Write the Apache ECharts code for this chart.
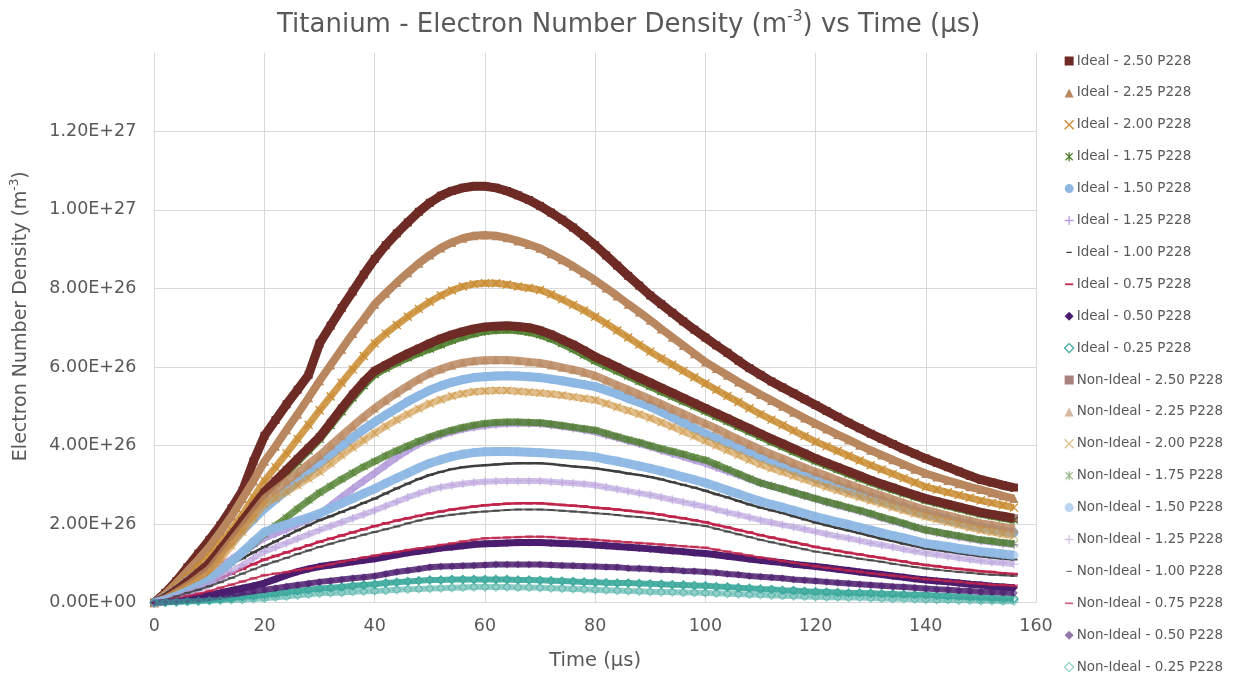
<!DOCTYPE html>
<html>
<head>
<meta charset="utf-8">
<script src="https://cdn.jsdelivr.net/npm/echarts@6/dist/echarts.min.js"></script>
<style>
  html, body { margin: 0; padding: 0; background: #ffffff; }
  #chart { width: 1236px; height: 677px; }
</style>
</head>
<body>
<div id="chart"></div>
<script>
// Sample times (µs)
const timeUs = [
  0, 2, 4, 6, 8, 10, 12, 14, 16, 18,
  20, 22, 24, 26, 28, 30, 32, 34, 36, 38,
  40, 42, 44, 46, 48, 50, 52, 54, 56, 58,
  60, 62, 64, 66, 68, 70, 72, 74, 76, 78,
  80, 82, 84, 86, 88, 90, 92, 94, 96, 98,
  100, 102, 104, 106, 108, 110, 112, 114, 116, 118,
  120, 122, 124, 126, 128, 130, 132, 134, 136, 138,
  140, 142, 144, 146, 148, 150, 152, 154, 156
];

// Electron number density, in units of 1E+26 m^-3
const ideal250 = [
  0, 0.25, 0.55, 0.9, 1.25, 1.6, 1.97, 2.4, 2.85, 3.6,
  4.25, 4.65, 5.05, 5.42, 5.8, 6.6, 7.05, 7.5, 7.92, 8.35,
  8.75, 9.1, 9.4, 9.68, 9.95, 10.18, 10.36, 10.48, 10.56, 10.6,
  10.6, 10.56, 10.48, 10.37, 10.25, 10.1, 9.93, 9.75, 9.55, 9.33,
  9.1, 8.84, 8.58, 8.32, 8.07, 7.82, 7.6, 7.38, 7.16, 6.95,
  6.75, 6.55, 6.36, 6.16, 5.97, 5.8, 5.63, 5.48, 5.33, 5.18,
  5.03, 4.88, 4.73, 4.58, 4.44, 4.3, 4.17, 4.04, 3.91, 3.79,
  3.67, 3.56, 3.45, 3.34, 3.23, 3.13, 3.06, 2.99, 2.93
];
const ideal225 = [
  0, 0.22, 0.5, 0.8, 1.1, 1.42, 1.8, 2.2, 2.65, 3.1,
  3.6, 3.98, 4.4, 4.8, 5.22, 5.65, 6.05, 6.45, 6.85, 7.22,
  7.6, 7.88, 8.15, 8.4, 8.64, 8.85, 9.03, 9.17, 9.28, 9.34,
  9.36, 9.34, 9.29, 9.21, 9.12, 9.02, 8.88, 8.73, 8.57, 8.39,
  8.21, 8.01, 7.81, 7.6, 7.4, 7.19, 6.97, 6.76, 6.55, 6.34,
  6.13, 5.96, 5.79, 5.62, 5.46, 5.3, 5.15, 5.0, 4.85, 4.7,
  4.56, 4.42, 4.28, 4.15, 4.01, 3.88, 3.76, 3.64, 3.52, 3.4,
  3.29, 3.2, 3.11, 3.03, 2.95, 2.88, 2.8, 2.72, 2.65
];
const ideal200 = [
  0, 0.18, 0.4, 0.64, 0.9, 1.17, 1.5, 1.85, 2.25, 2.68,
  3.1, 3.45, 3.8, 4.17, 4.53, 4.9, 5.25, 5.6, 5.94, 6.28,
  6.6, 6.85, 7.07, 7.28, 7.48, 7.66, 7.82, 7.95, 8.05, 8.11,
  8.13, 8.13, 8.1, 8.05, 8.01, 7.96, 7.85, 7.72, 7.58, 7.44,
  7.28, 7.11, 6.93, 6.75, 6.57, 6.39, 6.22, 6.06, 5.9, 5.74,
  5.58, 5.42, 5.26, 5.11, 4.95, 4.8, 4.66, 4.52, 4.38, 4.24,
  4.1, 3.98, 3.86, 3.74, 3.62, 3.5, 3.39, 3.28, 3.17, 3.06,
  2.95, 2.88, 2.81, 2.74, 2.67, 2.6, 2.54, 2.48, 2.42
];
const ideal175 = [
  0, 0.12, 0.3, 0.5, 0.72, 0.95, 1.3, 1.65, 2.0, 2.38,
  2.75, 3.03, 3.3, 3.58, 3.86, 4.15, 4.5, 4.85, 5.2, 5.52,
  5.8, 5.96, 6.1, 6.23, 6.35, 6.45, 6.56, 6.67, 6.76, 6.84,
  6.9, 6.93, 6.94, 6.92, 6.88, 6.81, 6.71, 6.59, 6.45, 6.3,
  6.15, 6.02, 5.89, 5.76, 5.63, 5.5, 5.37, 5.25, 5.12, 5.0,
  4.87, 4.74, 4.61, 4.48, 4.35, 4.22, 4.09, 3.97, 3.84, 3.72,
  3.6, 3.49, 3.38, 3.27, 3.16, 3.06, 2.96, 2.87, 2.78, 2.69,
  2.6, 2.53, 2.46, 2.39, 2.32, 2.25, 2.2, 2.15, 2.1
];
const ideal150 = [
  0, 0.15, 0.33, 0.55, 0.77, 1.0, 1.28, 1.56, 1.84, 2.12,
  2.4, 2.63, 2.86, 3.09, 3.32, 3.54, 3.76, 3.98, 4.2, 4.41,
  4.6, 4.78, 4.95, 5.12, 5.27, 5.41, 5.52, 5.61, 5.68, 5.73,
  5.75, 5.77, 5.78, 5.77, 5.75, 5.73, 5.69, 5.65, 5.6, 5.55,
  5.5, 5.41, 5.31, 5.2, 5.1, 4.99, 4.86, 4.72, 4.58, 4.44,
  4.3, 4.18, 4.06, 3.94, 3.82, 3.7, 3.59, 3.48, 3.37, 3.26,
  3.16, 3.06, 2.96, 2.87, 2.77, 2.68, 2.6, 2.51, 2.43, 2.34,
  2.26, 2.19, 2.12, 2.05, 1.98, 1.92, 1.87, 1.82, 1.78
];
const ideal125 = [
  0, 0.12, 0.27, 0.42, 0.58, 0.75, 0.93, 1.11, 1.29, 1.47,
  1.65, 1.76, 1.87, 2.0, 2.12, 2.25, 2.47, 2.69, 2.9, 3.1,
  3.3, 3.5, 3.7, 3.88, 4.04, 4.17, 4.27, 4.35, 4.42, 4.47,
  4.51, 4.54, 4.56, 4.57, 4.57, 4.56, 4.53, 4.49, 4.45, 4.4,
  4.35, 4.27, 4.2, 4.12, 4.05, 3.97, 3.88, 3.8, 3.72, 3.63,
  3.55, 3.45, 3.35, 3.25, 3.15, 3.05, 2.97, 2.89, 2.81, 2.72,
  2.64, 2.56, 2.48, 2.41, 2.33, 2.25, 2.16, 2.08, 2.0, 1.92,
  1.85, 1.79, 1.73, 1.68, 1.63, 1.58, 1.55, 1.51, 1.48
];
const ideal100 = [
  0, 0.12, 0.26, 0.4, 0.55, 0.7, 0.85, 0.99, 1.13, 1.28,
  1.42, 1.56, 1.7, 1.84, 1.97, 2.1, 2.2, 2.31, 2.42, 2.54,
  2.65, 2.78, 2.91, 3.03, 3.15, 3.25, 3.33, 3.4, 3.45, 3.48,
  3.5, 3.52, 3.54, 3.55, 3.55, 3.55, 3.53, 3.5, 3.47, 3.45,
  3.42, 3.38, 3.34, 3.29, 3.25, 3.2, 3.14, 3.07, 3.0, 2.93,
  2.85, 2.76, 2.68, 2.59, 2.5, 2.42, 2.35, 2.28, 2.2, 2.12,
  2.04, 1.97, 1.9, 1.84, 1.77, 1.7, 1.63, 1.57, 1.5, 1.44,
  1.38, 1.34, 1.3, 1.26, 1.22, 1.18, 1.15, 1.12, 1.1
];
const ideal075 = [
  0, 0.08, 0.18, 0.28, 0.39, 0.5, 0.62, 0.74, 0.86, 0.98,
  1.1, 1.19, 1.28, 1.37, 1.46, 1.55, 1.63, 1.71, 1.79, 1.87,
  1.95, 2.02, 2.09, 2.15, 2.21, 2.27, 2.32, 2.37, 2.41, 2.45,
  2.48, 2.5, 2.52, 2.53, 2.53, 2.53, 2.51, 2.49, 2.47, 2.45,
  2.42, 2.4, 2.37, 2.34, 2.31, 2.28, 2.24, 2.19, 2.15, 2.1,
  2.05, 1.98, 1.92, 1.85, 1.79, 1.72, 1.66, 1.6, 1.54, 1.48,
  1.42, 1.37, 1.32, 1.27, 1.23, 1.18, 1.14, 1.09, 1.05, 1.0,
  0.96, 0.93, 0.89, 0.86, 0.83, 0.8, 0.78, 0.75, 0.73
];
const ideal050 = [
  0, 0.03, 0.07, 0.11, 0.15, 0.2, 0.25, 0.31, 0.37, 0.43,
  0.5, 0.6, 0.7, 0.79, 0.86, 0.92, 0.96, 1.0, 1.04, 1.08,
  1.12, 1.17, 1.22, 1.27, 1.31, 1.35, 1.39, 1.42, 1.45, 1.48,
  1.5, 1.51, 1.52, 1.53, 1.53, 1.53, 1.52, 1.51, 1.5, 1.49,
  1.47, 1.45, 1.43, 1.41, 1.39, 1.37, 1.35, 1.32, 1.3, 1.27,
  1.25, 1.22, 1.18, 1.15, 1.11, 1.08, 1.05, 1.02, 0.98, 0.95,
  0.92, 0.89, 0.85, 0.82, 0.78, 0.75, 0.72, 0.68, 0.65, 0.61,
  0.58, 0.55, 0.53, 0.5, 0.47, 0.45, 0.42, 0.4, 0.38
];
const ideal025 = [
  0, 0.01, 0.02, 0.04, 0.05, 0.07, 0.09, 0.12, 0.15, 0.17,
  0.2, 0.23, 0.27, 0.3, 0.33, 0.36, 0.38, 0.4, 0.43, 0.45,
  0.47, 0.5, 0.52, 0.54, 0.56, 0.58, 0.58, 0.59, 0.59, 0.59,
  0.59, 0.59, 0.59, 0.58, 0.58, 0.57, 0.56, 0.55, 0.54, 0.53,
  0.52, 0.51, 0.5, 0.5, 0.49, 0.48, 0.47, 0.46, 0.45, 0.44,
  0.43, 0.41, 0.4, 0.38, 0.37, 0.35, 0.34, 0.32, 0.31, 0.29,
  0.28, 0.27, 0.26, 0.25, 0.25, 0.24, 0.23, 0.22, 0.21, 0.2,
  0.2, 0.18, 0.17, 0.16, 0.14, 0.13, 0.12, 0.11, 0.1
];
const nonIdeal250 = [
  0, 0.13, 0.32, 0.53, 0.76, 1.0, 1.35, 1.71, 2.08, 2.45,
  2.82, 3.1, 3.38, 3.66, 3.94, 4.22, 4.58, 4.95, 5.3, 5.62,
  5.9, 6.05, 6.2, 6.34, 6.47, 6.6, 6.72, 6.82, 6.9, 6.97,
  7.02, 7.04, 7.05, 7.03, 7.0, 6.93, 6.83, 6.7, 6.57, 6.42,
  6.26, 6.13, 6.0, 5.86, 5.73, 5.6, 5.47, 5.34, 5.21, 5.08,
  4.95, 4.82, 4.69, 4.56, 4.43, 4.3, 4.17, 4.05, 3.92, 3.8,
  3.67, 3.56, 3.45, 3.34, 3.23, 3.12, 3.02, 2.93, 2.83, 2.74,
  2.65, 2.58, 2.51, 2.44, 2.37, 2.3, 2.25, 2.2, 2.15
];
const nonIdeal225 = [
  0, 0.1, 0.26, 0.44, 0.64, 0.85, 1.21, 1.57, 1.93, 2.29,
  2.65, 2.87, 3.09, 3.31, 3.53, 3.75, 4.0, 4.25, 4.49, 4.73,
  4.95, 5.15, 5.34, 5.52, 5.69, 5.84, 5.95, 6.04, 6.11, 6.15,
  6.17, 6.18, 6.18, 6.16, 6.13, 6.1, 6.05, 5.99, 5.93, 5.86,
  5.78, 5.66, 5.54, 5.42, 5.3, 5.18, 5.06, 4.93, 4.81, 4.68,
  4.56, 4.43, 4.29, 4.16, 4.03, 3.9, 3.78, 3.67, 3.55, 3.44,
  3.33, 3.23, 3.12, 3.02, 2.92, 2.82, 2.73, 2.63, 2.54, 2.45,
  2.36, 2.29, 2.22, 2.15, 2.09, 2.02, 1.98, 1.93, 1.89
];
const nonIdeal200 = [
  0, 0.09, 0.23, 0.39, 0.56, 0.75, 1.1, 1.45, 1.8, 2.15,
  2.5, 2.66, 2.82, 2.99, 3.16, 3.33, 3.54, 3.75, 3.95, 4.14,
  4.32, 4.49, 4.65, 4.8, 4.94, 5.07, 5.17, 5.26, 5.32, 5.37,
  5.39, 5.4, 5.4, 5.38, 5.36, 5.34, 5.31, 5.28, 5.24, 5.2,
  5.16, 5.07, 4.98, 4.89, 4.8, 4.7, 4.59, 4.48, 4.36, 4.24,
  4.12, 4.0, 3.88, 3.76, 3.64, 3.52, 3.42, 3.33, 3.23, 3.14,
  3.04, 2.95, 2.86, 2.77, 2.69, 2.6, 2.52, 2.43, 2.35, 2.27,
  2.19, 2.12, 2.05, 1.98, 1.91, 1.85, 1.8, 1.75, 1.7
];
const nonIdeal175 = [
  0, 0.07, 0.18, 0.3, 0.42, 0.55, 0.78, 1.02, 1.26, 1.5,
  1.75, 1.96, 2.17, 2.39, 2.6, 2.8, 2.97, 3.14, 3.3, 3.46,
  3.6, 3.74, 3.87, 3.99, 4.11, 4.22, 4.31, 4.39, 4.46, 4.52,
  4.56, 4.59, 4.6, 4.6, 4.59, 4.58, 4.55, 4.51, 4.47, 4.43,
  4.39, 4.31, 4.23, 4.15, 4.08, 4.0, 3.92, 3.85, 3.78, 3.7,
  3.63, 3.52, 3.4, 3.28, 3.16, 3.05, 2.97, 2.89, 2.81, 2.73,
  2.65, 2.57, 2.5, 2.42, 2.35, 2.27, 2.18, 2.1, 2.02, 1.93,
  1.85, 1.8, 1.75, 1.7, 1.65, 1.6, 1.57, 1.53, 1.5
];
const nonIdeal150 = [
  0, 0.07, 0.17, 0.29, 0.42, 0.57, 0.8, 1.04, 1.29, 1.55,
  1.8, 1.9, 1.99, 2.08, 2.17, 2.27, 2.4, 2.53, 2.65, 2.78,
  2.9, 3.04, 3.17, 3.3, 3.43, 3.55, 3.64, 3.72, 3.78, 3.82,
  3.84, 3.85, 3.85, 3.84, 3.83, 3.82, 3.8, 3.78, 3.76, 3.74,
  3.71, 3.65, 3.6, 3.54, 3.48, 3.42, 3.35, 3.28, 3.2, 3.13,
  3.05, 2.96, 2.86, 2.77, 2.67, 2.58, 2.5, 2.43, 2.35, 2.27,
  2.19, 2.12, 2.05, 1.99, 1.92, 1.85, 1.78, 1.71, 1.65, 1.58,
  1.51, 1.47, 1.43, 1.38, 1.34, 1.3, 1.27, 1.24, 1.21
];
const nonIdeal125 = [
  0, 0.06, 0.14, 0.24, 0.34, 0.45, 0.62, 0.79, 0.96, 1.13,
  1.3, 1.41, 1.52, 1.63, 1.74, 1.85, 1.95, 2.05, 2.15, 2.25,
  2.35, 2.46, 2.57, 2.68, 2.78, 2.87, 2.94, 2.99, 3.03, 3.06,
  3.08, 3.09, 3.1, 3.1, 3.1, 3.1, 3.08, 3.06, 3.04, 3.02,
  2.99, 2.94, 2.89, 2.84, 2.79, 2.74, 2.68, 2.62, 2.56, 2.5,
  2.44, 2.37, 2.3, 2.24, 2.17, 2.1, 2.04, 1.98, 1.93, 1.87,
  1.81, 1.75, 1.69, 1.64, 1.58, 1.52, 1.47, 1.42, 1.36, 1.31,
  1.26, 1.22, 1.18, 1.14, 1.1, 1.06, 1.03, 1.01, 0.98
];
const nonIdeal100 = [
  0, 0.07, 0.16, 0.25, 0.33, 0.42, 0.52, 0.63, 0.74, 0.85,
  0.96, 1.05, 1.14, 1.24, 1.33, 1.42, 1.5, 1.58, 1.65, 1.73,
  1.8, 1.87, 1.94, 2.02, 2.09, 2.15, 2.2, 2.24, 2.27, 2.3,
  2.32, 2.34, 2.36, 2.37, 2.37, 2.37, 2.36, 2.34, 2.32, 2.3,
  2.28, 2.26, 2.23, 2.2, 2.18, 2.15, 2.11, 2.07, 2.03, 1.99,
  1.95, 1.88, 1.81, 1.74, 1.67, 1.6, 1.54, 1.48, 1.42, 1.36,
  1.3, 1.26, 1.21, 1.17, 1.12, 1.08, 1.04, 0.99, 0.95, 0.91,
  0.87, 0.84, 0.81, 0.78, 0.76, 0.73, 0.71, 0.7, 0.68
];
const nonIdeal075 = [
  0, 0.05, 0.11, 0.17, 0.23, 0.3, 0.38, 0.46, 0.54, 0.62,
  0.7, 0.74, 0.78, 0.83, 0.87, 0.92, 0.98, 1.04, 1.09, 1.15,
  1.2, 1.25, 1.29, 1.34, 1.38, 1.42, 1.47, 1.51, 1.56, 1.6,
  1.64, 1.65, 1.66, 1.67, 1.68, 1.68, 1.67, 1.65, 1.63, 1.62,
  1.6, 1.58, 1.56, 1.54, 1.52, 1.5, 1.48, 1.46, 1.44, 1.42,
  1.4, 1.35, 1.3, 1.25, 1.2, 1.15, 1.11, 1.06, 1.02, 0.97,
  0.93, 0.89, 0.86, 0.82, 0.79, 0.75, 0.72, 0.69, 0.66, 0.63,
  0.6, 0.58, 0.55, 0.53, 0.5, 0.48, 0.46, 0.45, 0.43
];
const nonIdeal050 = [
  0, 0.02, 0.04, 0.07, 0.09, 0.12, 0.16, 0.2, 0.25, 0.29,
  0.33, 0.37, 0.41, 0.45, 0.49, 0.53, 0.56, 0.59, 0.62, 0.65,
  0.68, 0.73, 0.78, 0.82, 0.86, 0.9, 0.92, 0.93, 0.94, 0.95,
  0.96, 0.97, 0.97, 0.97, 0.97, 0.97, 0.96, 0.95, 0.94, 0.93,
  0.92, 0.91, 0.9, 0.88, 0.87, 0.86, 0.84, 0.83, 0.81, 0.8,
  0.78, 0.76, 0.73, 0.71, 0.68, 0.66, 0.64, 0.62, 0.59, 0.57,
  0.55, 0.53, 0.51, 0.49, 0.47, 0.45, 0.43, 0.41, 0.4, 0.38,
  0.36, 0.34, 0.33, 0.31, 0.3, 0.28, 0.27, 0.26, 0.25
];
const nonIdeal025 = [
  0, 0.01, 0.02, 0.03, 0.04, 0.05, 0.06, 0.07, 0.08, 0.1,
  0.11, 0.14, 0.16, 0.19, 0.21, 0.24, 0.25, 0.26, 0.28, 0.29,
  0.3, 0.31, 0.33, 0.34, 0.35, 0.36, 0.37, 0.38, 0.39, 0.4,
  0.4, 0.4, 0.4, 0.39, 0.39, 0.38, 0.37, 0.36, 0.35, 0.34,
  0.33, 0.32, 0.31, 0.3, 0.29, 0.28, 0.27, 0.27, 0.26, 0.26,
  0.25, 0.24, 0.23, 0.22, 0.21, 0.2, 0.19, 0.18, 0.17, 0.16,
  0.15, 0.14, 0.14, 0.13, 0.13, 0.12, 0.11, 0.1, 0.1, 0.09,
  0.08, 0.07, 0.07, 0.06, 0.06, 0.05, 0.05, 0.04, 0.04
];

const seriesNames = [
  'Ideal - 2.50 P228', 'Ideal - 2.25 P228', 'Ideal - 2.00 P228', 'Ideal - 1.75 P228', 'Ideal - 1.50 P228',
  'Ideal - 1.25 P228', 'Ideal - 1.00 P228', 'Ideal - 0.75 P228', 'Ideal - 0.50 P228', 'Ideal - 0.25 P228',
  'Non-Ideal - 2.50 P228', 'Non-Ideal - 2.25 P228', 'Non-Ideal - 2.00 P228', 'Non-Ideal - 1.75 P228', 'Non-Ideal - 1.50 P228',
  'Non-Ideal - 1.25 P228', 'Non-Ideal - 1.00 P228', 'Non-Ideal - 0.75 P228', 'Non-Ideal - 0.50 P228', 'Non-Ideal - 0.25 P228'
];
const seriesValues = [
  ideal250, ideal225, ideal200, ideal175, ideal150, ideal125, ideal100, ideal075, ideal050, ideal025,
  nonIdeal250, nonIdeal225, nonIdeal200, nonIdeal175, nonIdeal150, nonIdeal125, nonIdeal100, nonIdeal075, nonIdeal050, nonIdeal025
];

// Marker shapes
const CROSS = 'path://M0,0L10,10M10,0L0,10';
const STAR = 'path://M1,1L9,9M9,1L1,9M5,0L5,10';
const PLUS = 'path://M5,0L5,10M0,5L10,5';
const DASH_SHORT = 'path://M0,0M10,10M2,4.3L8,4.3L8,5.7L2,5.7Z';
const DASH_LONG = 'path://M0,0M10,10M0.5,4L9.5,4L9.5,6L0.5,6Z';

// Per-series look: marker, size, fill, stroke, band width and band opacity
const looks = [
  { sym: 'rect',     legend: 'rect',     size: 8,        fill: '#6E2B26', line: '#6E2B26', lw: 9,   lo: 1 },
  { sym: 'triangle', legend: 'triangle', size: 9,        fill: '#B9875F', line: '#B9875F', lw: 8,   lo: 1 },
  { sym: CROSS,      legend: CROSS,      size: 8,        stroke: '#C98B2F', line: '#C98B2F', lw: 7, lo: 0.85 },
  { sym: STAR,       legend: STAR,       size: 8,        stroke: '#4E7E2C', line: '#4E7E2C', lw: 7, lo: 0.9 },
  { sym: 'circle',   legend: 'circle',   size: 9,        fill: '#8EB8E4', line: '#8EB8E4', lw: 9,   lo: 1 },
  { sym: PLUS,       legend: PLUS,       size: 9,        stroke: '#B59CDB', line: '#B59CDB', lw: 7, lo: 0.9 },
  { sym: 'rect',     legend: DASH_SHORT, size: [7, 2],   fill: '#3F3F3F', line: '#3F3F3F', lw: 2.5, lo: 1 },
  { sym: 'rect',     legend: DASH_LONG,  size: [8, 2.5], fill: '#C0254C', line: '#C0254C', lw: 2.5, lo: 1 },
  { sym: 'diamond',  legend: 'diamond',  size: 8,        fill: '#4B1D6E', line: '#4B1D6E', lw: 7,   lo: 1 },
  { sym: 'diamond',  legend: 'diamond',  size: 8,        stroke: '#3BA89C', hollow: true, line: '#3BA89C', lw: 6, lo: 0.9 },

  { sym: 'rect',     legend: 'rect',     size: 8,        fill: 'rgba(110,43,38,0.6)',   line: '#6E2B26', lw: 9,   lo: 1 },
  { sym: 'triangle', legend: 'triangle', size: 9,        fill: 'rgba(185,135,95,0.6)',  line: '#B9875F', lw: 8,   lo: 0.85 },
  { sym: CROSS,      legend: CROSS,      size: 8,        stroke: 'rgba(201,139,47,0.55)', line: '#D19A4A', lw: 7, lo: 0.65 },
  { sym: STAR,       legend: STAR,       size: 8,        stroke: 'rgba(78,126,44,0.55)',  line: '#4E7E2C', lw: 7, lo: 0.8 },
  { sym: 'circle',   legend: 'circle',   size: 9,        fill: 'rgba(142,184,228,0.6)', line: '#8EB8E4', lw: 9,   lo: 0.95 },
  { sym: PLUS,       legend: PLUS,       size: 9,        stroke: 'rgba(181,156,219,0.6)', line: '#B59CDB', lw: 6, lo: 0.65 },
  { sym: 'rect',     legend: DASH_SHORT, size: [7, 2],   fill: 'rgba(63,63,63,0.7)',    line: '#3F3F3F', lw: 2,   lo: 0.8 },
  { sym: 'rect',     legend: DASH_LONG,  size: [8, 2.5], fill: 'rgba(192,37,76,0.7)',   line: '#C0254C', lw: 2,   lo: 0.85 },
  { sym: 'diamond',  legend: 'diamond',  size: 8,        fill: 'rgba(75,29,110,0.6)',   line: '#4B1D6E', lw: 6,   lo: 0.85 },
  { sym: 'diamond',  legend: 'diamond',  size: 8,        stroke: 'rgba(59,168,156,0.55)', hollow: true, line: '#3BA89C', lw: 6, lo: 0.55 }
];

const FONT = "'DejaVu Sans', 'Liberation Sans', sans-serif";
const TEXT_GREY = '#595959';
const GRID_GREY = '#d9d9d9';

// Scientific labels like 1.20E+27 from values held in 1E+26 units
function sciLabel(v) {
  const s = (v * 1e26).toExponential(2).toUpperCase();
  return s.replace(/E([+-])(\d+)$/, function (m, sign, exp) {
    return 'E' + sign + (exp.length < 2 ? '0' + exp : exp);
  });
}

const series = seriesNames.map(function (name, i) {
  const lk = looks[i];
  const itemStyle = lk.stroke
    ? { color: lk.hollow ? 'rgba(0,0,0,0)' : lk.stroke, borderColor: lk.stroke, borderWidth: 1.3 }
    : { color: lk.fill, borderWidth: 0 };
  return {
    name: name,
    type: 'line',
    z: 3 + i,
    data: timeUs.map(function (t, k) { return [t, seriesValues[i][k]]; }),
    symbol: lk.sym,
    symbolSize: lk.size,
    showSymbol: true,
    itemStyle: itemStyle,
    lineStyle: { color: lk.line, width: lk.lw, opacity: lk.lo, join: 'round' },
    emphasis: { disabled: true },
    animation: false,
    clip: true
  };
});

const legendData = seriesNames.map(function (name, i) {
  return { name: name, icon: looks[i].legend };
});

const chart = echarts.init(document.getElementById('chart'), null, { renderer: 'canvas' });
chart.setOption({
  backgroundColor: '#ffffff',
  animation: false,
  title: {
    text: '{t|Titanium - Electron Number Density (m}{s|-3}{t|) vs Time (µs)}',
    left: 272,
    top: 4,
    textStyle: {
      fontWeight: 'normal',
      rich: {
        t: { fontFamily: FONT, fontSize: 26, fontWeight: 'normal', color: TEXT_GREY, lineHeight: 32 },
        s: { fontFamily: FONT, fontSize: 15.5, fontWeight: 'normal', color: TEXT_GREY, lineHeight: 20, verticalAlign: 'top' }
      }
    }
  },
  legend: {
    orient: 'vertical',
    left: 1064,
    top: 54,
    padding: 0,
    itemWidth: 9,
    itemHeight: 9,
    itemGap: 17.9,
    selectedMode: false,
    data: legendData,
    itemStyle: { borderWidth: 'inherit' },
    textStyle: { fontFamily: FONT, fontSize: 13.5, color: TEXT_GREY, lineHeight: 14, padding: [0, 0, 0, -2] }
  },
  grid: { left: 154.3, right: 200, top: 52.7, bottom: 74.3, containLabel: false },
  xAxis: {
    type: 'value',
    min: 0,
    max: 160,
    interval: 20,
    name: 'Time (µs)',
    nameLocation: 'middle',
    nameGap: 48,
    nameTextStyle: { fontFamily: FONT, fontSize: 19.5, color: TEXT_GREY },
    axisLine: { show: false },
    axisTick: { show: false },
    axisLabel: { fontFamily: FONT, fontSize: 17.5, color: TEXT_GREY, margin: 15 },
    splitLine: { show: true, lineStyle: { color: GRID_GREY, width: 1 } }
  },
  yAxis: {
    type: 'value',
    min: 0,
    max: 14,
    interval: 2,
    name: '{t|Electron Number Density (m}{s|-3}{t|)}',
    nameLocation: 'middle',
    nameGap: 121,
    nameRotate: 90,
    nameTextStyle: {
      padding: [0, 0, 0, 23],
      rich: {
        t: { fontFamily: FONT, fontSize: 19, color: TEXT_GREY, lineHeight: 24 },
        s: { fontFamily: FONT, fontSize: 12, color: TEXT_GREY, lineHeight: 16, verticalAlign: 'top' }
      }
    },
    axisLine: { show: false },
    axisTick: { show: false },
    axisLabel: { fontFamily: FONT, fontSize: 17.5, color: TEXT_GREY, margin: 18, showMaxLabel: false, formatter: sciLabel },
    splitLine: { show: true, showMaxLine: false, lineStyle: { color: GRID_GREY, width: 1 } }
  },
  series: series
});
</script>
</body>
</html>
